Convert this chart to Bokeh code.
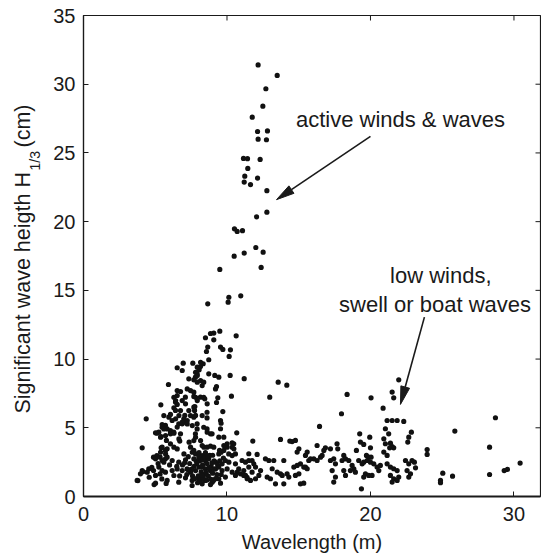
from math import pi, hypot
from bokeh.plotting import figure
from bokeh.layouts import row
from bokeh.models import Label, Range1d, FixedTicker
from bokeh.embed import file_html
from bokeh.resources import INLINE

# ---------------- data ----------------
x_ticks = [0, 10, 20, 30]
y_ticks = [0, 5, 10, 15, 20, 25, 30, 35]

# active winds & waves: the tall branch
wl_peak = [12.17, 13.5, 12.71, 12.50, 11.76, 12.13, 12.82, 12.17, 12.75, 11.15, 11.43, 12.31,
           11.45, 11.24, 12.13, 11.2, 11.64, 12.78, 12.78, 12.06, 10.52, 10.71, 11.08, 12.01,
           12.52, 11.2, 10.5, 9.5, 12.38, 10.13, 10.96, 10.08, 8.66, 10.64, 9.5, 8.85, 9.08,
           8.5, 9.08, 8.66, 8.57, 9.55, 9.71, 10.24, 10.15]
h_peak = [31.4, 30.64, 29.67, 28.4, 27.6, 26.56, 26.6, 26.0, 25.96, 24.6, 24.58, 24.53,
          23.87, 23.31, 23.17, 22.88, 22.7, 22.25, 20.69, 20.35, 19.48, 19.29, 19.34, 18.12,
          17.78, 17.71, 17.49, 16.52, 16.67, 14.5, 14.6, 14.14, 14.02, 11.69, 12.03, 11.86, 11.89,
          11.55, 11.4, 10.87, 10.55, 10.87, 10.7, 10.67, 10.19]

# middle band (3.5 - 10 cm)
wl_mid = [8.73, 8.34, 8.15, 8.06, 6.95, 7.62, 6.53, 6.88, 7.92, 7.8, 7.69, 8.73, 9.15, 9.43,
          10.22, 11.2, 12.98, 10.31, 5.92, 6.53, 6.76, 7.1, 7.69, 8.15, 8.45, 9.36, 9.27, 8.62,
          7.76, 5.39, 4.37, 5.02, 5.13, 5.48, 5.71, 6.06, 6.29, 6.88, 7.1, 7.23, 7.69, 7.92,
          7.8, 8.38, 8.62, 9.55, 9.55, 9.43, 9.78, 10.68, 4.09, 5.78, 6.06, 6.71, 7.36, 11.8,
          10.36, 10.01, 9.78, 8.16, 7.93, 7.81, 7.93, 7.34, 7.93, 8.16, 8.27, 7.23, 7.46, 7.69,
          6.3, 6.53, 6.42, 6.88, 7.11, 7.81, 7.93, 5.6, 5.95, 6.18, 6.42, 6.65, 6.76, 7.34,
          7.46, 7.69, 8.27, 7.23, 7.58, 5.83, 6.07, 5.37, 5.72, 6.76, 6.65, 7.81, 7.69, 8.16,
          6.3, 6.53, 7.46, 8.39, 9.27, 9.2, 8.38, 8.38, 8.61, 8.61, 9.71, 9.59, 8.61, 8.96,
          8.61, 8.85, 9.08, 10.47, 10.36, 5.41, 5.41, 6.41, 6.53, 6.30, 6.41, 6.06, 7.06, 6.99,
          7.74, 7.81, 5.48, 5.60, 5.25, 6.53, 6.64, 6.88, 6.06, 6.30, 7.92, 8.85, 5.48, 5.83,
          8.27, 9.78, 10.01, 10.48]
h_mid = [9.95, 9.66, 9.46, 9.22, 9.7, 9.7, 9.37, 9.17, 8.93, 8.68, 8.49, 8.93, 8.81, 8.68,
         8.81, 8.57, 7.23, 7.3, 8.15, 7.71, 7.64, 7.23, 7.28, 7.23, 7.11, 7.18, 6.84, 6.74,
         6.55, 6.67, 5.65, 4.63, 4.61, 5.04, 5.17, 4.8, 4.68, 5.29, 5.41, 5.53, 5.77, 5.29,
         4.56, 5.04, 4.68, 5.53, 4.93, 4.32, 4.32, 4.63, 3.54, 4.08, 3.83, 4.03, 3.95, 4.03,
         3.91, 3.59, 3.35, 9.77, 9.41, 9.04, 8.8, 8.56, 8.32, 8.44, 8.07, 7.83, 7.71, 7.59,
         7.22, 7.35, 6.98, 6.98, 6.74, 7.22, 6.98, 5.89, 5.77, 5.53, 5.65, 5.89, 6.25, 6.25,
         5.89, 6.5, 5.89, 5.28, 5.16, 4.92, 4.68, 4.31, 4.44, 4.56, 4.19, 4.31, 4.07, 4.07,
         3.59, 3.46, 3.59, 3.59, 8.0, 7.83, 8.32, 7.22, 6.13, 5.72, 6.18, 5.33, 4.92, 4.56,
         3.59, 3.66, 3.59, 3.83, 3.59, 4.36, 3.54, 6.87, 6.70, 6.45, 6.26, 5.97, 5.90, 5.65,
         6.26, 5.90, 5.24, 4.92, 4.68, 5.05, 5.29, 5.41, 4.56, 4.61, 4.92, 4.56, 3.59, 3.47,
         3.71, 3.71, 3.83, 3.47]

# low cluster (short wavelength, small heights)
wl_low = [9.59, 9.43, 10.12, 10.36, 10.59, 11.05, 11.29, 11.52, 10.71, 10.94, 11.17, 11.4,
          7.58, 7.81, 5.37, 5.72, 5.83, 11.52, 12.1, 4.88, 5.11, 5.34, 4.76, 4.88, 4.13, 3.79,
          4.58, 4.92, 5.34, 5.46, 5.71, 7.69, 9.48, 5.02, 5.48, 5.71, 6.18, 6.64, 7.11, 7.69,
          8.04, 8.27, 8.50, 8.73, 9.20, 9.66, 9.89, 10.13, 10.59, 4.09, 4.55, 5.25, 5.48, 5.71,
          6.18, 6.53, 6.88, 7.22, 7.46, 7.81, 8.04, 8.27, 8.50, 8.85, 9.20, 9.43, 9.66, 10.01,
          10.36, 10.82, 11.17, 11.52, 11.75, 3.74, 5.02, 5.83, 6.30, 6.64, 7.11, 7.57, 8.04,
          8.50, 8.97, 9.43, 9.89, 10.59, 11.29, 11.64, 3.97, 4.44, 7.57, 8.27, 8.85, 7.9, 8.1,
          8.3, 8.4, 8.6, 8.7, 8.9, 9.0, 9.1, 8.2, 7.7, 7.4, 8.8, 9.3, 9.5, 7.2, 6.9, 8.0, 8.5,
          9.0, 8.3, 8.6, 7.6, 9.2, 6.7, 6.5, 6.0, 5.6, 5.2, 7.3, 7.0, 5.76, 5.02, 9.55, 9.06,
          7.75, 7.95, 8.15, 8.35, 8.55, 8.75, 8.95, 9.1, 8.45, 8.05, 7.85, 8.65, 9.35, 7.55,
          8.25, 8.9, 9.6, 9.75, 7.3, 7.05]
h_low = [3.22, 3.1, 3.1, 2.98, 3.1, 2.62, 2.5, 2.62, 1.77, 1.65, 1.53, 1.4,
         3.22, 3.1, 3.22, 3.1, 2.86, 3.11, 3.06, 2.86, 2.98, 2.86, 2.13, 1.89, 1.81, 1.16,
         1.4, 0.87, 1.64, 1.28, 3.35, 3.35, 3.35, 2.74, 2.62, 2.74, 2.62, 2.50, 2.67, 2.74,
         2.86, 2.98, 2.62, 2.74, 2.50, 2.38, 2.62, 2.50, 2.38, 1.89, 2.01, 2.14, 1.89, 1.77,
         1.89, 2.01, 1.89, 2.01, 1.77, 1.89, 2.14, 2.14, 2.01, 1.89, 2.01, 2.14, 1.89, 2.01,
         1.77, 2.01, 1.89, 2.14, 1.77, 1.17, 1.53, 1.17, 1.53, 1.04, 1.36, 1.17, 1.29,
         1.17, 1.04, 1.29, 1.41, 1.53, 1.53, 1.17, 1.65, 1.77, 0.80, 0.92, 0.87, 2.4, 2.6,
         2.3, 1.6, 2.4, 1.5, 2.2, 1.7, 2.6, 1.8, 2.2, 2.4, 3.0, 1.6, 2.6, 1.6, 2.3, 1.5, 3.2,
         3.0, 2.7, 1.2, 1.5, 1.3, 1.5, 2.2, 2.3, 2.5, 2.4, 2.9, 3.1, 0.95, 0.97, 0.97, 1.16,
         1.3, 1.0, 1.15, 1.35, 1.75, 2.1, 2.45, 2.0, 2.85, 3.2, 2.6, 2.95, 2.3, 2.0,
         1.55, 1.25, 1.6, 2.8, 1.95, 2.45]

# low winds, swell or boat waves (longer wavelengths)
wl_long = [13.57, 14.17, 16.45, 13.73, 14.38, 14.54, 14.77, 16.28, 16.86, 16.75, 15.01, 14.89,
           15.59, 15.47, 11.75, 11.87, 11.99, 12.34, 12.22, 12.68, 12.92, 13.26, 13.96, 16.05,
           16.28, 16.52, 16.63, 15.70, 15.82, 15.12, 15.35, 15.47, 15.59, 14.66, 14.89, 13.15,
           13.5, 13.73, 13.85, 14.19, 14.31, 12.8, 13.03, 14.77, 15.01, 13.38, 13.96, 15.12,
           15.35, 11.41, 11.99, 17.33,
           21.97, 21.51, 21.62, 18.37, 20.04, 20.88, 17.98, 21.16, 21.51, 21.86, 22.32, 21.04,
           21.27, 19.25, 19.95, 22.85, 22.67, 22.6, 19.3, 19.53, 20.93, 21.04, 21.39, 21.51,
           21.34, 21.62, 17.67, 17.72, 17.21, 19.02, 20.0, 20.93, 21.16, 19.72, 19.88, 20.04,
           18.14, 18.26, 18.02, 18.49, 17.21, 17.44, 17.56, 19.18, 19.42, 19.53, 19.77, 20.0,
           20.23, 18.72, 18.84, 18.6, 18.95, 20.46, 20.58, 20.69, 21.16, 21.39, 21.62, 21.86,
           22.44, 22.67, 22.9, 23.06, 22.55, 22.79, 22.67, 19.65, 19.53, 19.88, 20.11, 18.14,
           18.26, 17.56, 17.44, 21.39, 21.62, 21.86, 21.97, 21.51, 19.37,
           23.14, 23.95, 23.95, 25.88, 28.71, 28.30, 25.04, 24.88, 24.88, 25.72, 28.30, 29.32,
           29.55, 30.43]
h_long = [8.32, 8.10, 5.10, 4.15, 4.03, 4.0, 4.08, 3.71, 3.54, 3.35, 3.47, 3.23,
          3.23, 2.99, 2.62, 2.38, 2.14, 1.89, 1.53, 2.74, 2.62, 2.62, 2.62, 2.74,
          2.62, 2.86, 2.99, 2.62, 2.74, 2.38, 2.14, 2.14, 2.02, 2.14, 2.26, 2.02,
          1.77, 1.65, 1.53, 1.65, 1.41, 1.41, 1.29, 1.53, 1.65, 0.92, 0.92, 0.92,
          0.97, 1.29, 1.29, 1.89,
          8.49, 7.6, 7.18, 7.43, 7.18, 6.43, 6.02, 5.53, 5.53, 5.53, 5.46, 4.93,
          4.56, 4.56, 4.32, 4.68, 4.32, 3.96, 3.96, 3.79, 4.2, 3.84, 3.88, 3.64,
          3.54, 3.54, 3.84, 3.47, 3.47, 3.35, 3.54, 3.23, 2.99, 2.99, 2.86, 2.86,
          2.99, 2.74, 2.62, 2.62, 2.62, 2.74, 2.38, 2.62, 2.38, 2.5, 2.62, 2.5,
          2.38, 2.26, 2.02, 1.89, 1.77, 2.14, 1.89, 2.26, 2.38, 2.14, 2.02, 1.89,
          2.62, 2.38, 2.62, 2.5, 1.89, 1.65, 1.41, 1.65, 1.41, 1.53, 1.53, 1.89,
          1.53, 1.41, 1.05, 1.53, 1.29, 1.17, 1.41, 1.05, 0.56,
          2.09, 3.42, 3.06, 4.76, 5.73, 3.59, 1.70, 1.17, 1.0, 1.48, 1.60, 1.89,
          1.97, 2.43]

wavelength = wl_peak + wl_mid + wl_low + wl_long
height = h_peak + h_mid + h_low + h_long

# ---------------- layout constants ----------------
X0, X1, Y0, Y1 = 0, 31.85, 0, 35
TOTAL_W, H = 541, 559
LAB_W = 46                       # strip holding the rotated y title
W = TOTAL_W - LAB_W
BL, BR, BT, BB = 83 - LAB_W, 1, 15, 63
FONT = "Liberation Sans"
INK = "#1a1a1a"

p = figure(width=W, height=H, output_backend="svg", toolbar_location=None,
           x_range=Range1d(X0, X1), y_range=Range1d(Y0, Y1),
           min_border_left=BL, min_border_right=BR, min_border_top=BT, min_border_bottom=BB,
           background_fill_color="white", border_fill_color="white")
p.outline_line_color = INK
p.outline_line_width = 1.2
p.xgrid.visible = False
p.ygrid.visible = False

for ax, ticks, standoff in ((p.xaxis[0], x_ticks, 10), (p.yaxis[0], y_ticks, 8)):
    ax.ticker = FixedTicker(ticks=ticks)
    ax.major_tick_in = 5
    ax.major_tick_out = 0
    ax.minor_tick_in = 0
    ax.minor_tick_out = 0
    ax.major_tick_line_color = INK
    ax.axis_line_color = INK
    ax.axis_line_width = 1.2
    ax.major_label_standoff = standoff
    ax.major_label_text_font = FONT
    ax.major_label_text_font_size = "20px"
    ax.major_label_text_color = INK

p.xaxis[0].axis_line_width = 2
p.xaxis[0].axis_label = "Wavelength (m)"
p.xaxis[0].axis_label_text_font = FONT
p.xaxis[0].axis_label_text_font_size = "20px"
p.xaxis[0].axis_label_text_font_style = "normal"
p.xaxis[0].axis_label_text_color = INK
p.xaxis[0].axis_label_standoff = 7

FW = W - BL - BR
FH = H - BT - BB
sx = FW / (X1 - X0)
sy = FH / (Y1 - Y0)

# inward ticks on the top and right sides of the box
p.segment(x0=x_ticks, y0=[Y1] * len(x_ticks), x1=x_ticks, y1=[Y1 - 5 / sy] * len(x_ticks),
          line_color=INK, line_width=1)
p.segment(x0=[X1] * len(y_ticks), y0=y_ticks, x1=[X1 - 5 / sx] * len(y_ticks), y1=y_ticks,
          line_color=INK, line_width=1)

p.scatter(wavelength, height, size=5.2, color="#111111", line_color=None)

# ---------------- arrows ----------------
def arrow(xs, ys, xe, ye, L=18.0, hw=4.5):
    dx, dy = (xe - xs) * sx, (ye - ys) * sy
    n = hypot(dx, dy)
    ux, uy = dx / n, dy / n
    px_, py_ = -uy, ux
    bx, by = xe - L * ux / sx, ye - L * uy / sy
    p.line([xs, bx], [ys, by], line_color=INK, line_width=1.6)
    p.patch([xe, bx + hw * px_ / sx, bx - hw * px_ / sx],
            [ye, by + hw * py_ / sy, by - hw * py_ / sy],
            fill_color=INK, line_color=INK, line_width=1)

arrow(20.0, 26.2, 13.45, 21.6)
arrow(23.76, 13.05, 22.09, 6.70)

# ---------------- texts ----------------
def txt(fig, x, y, s, size="22px", align="center", baseline="middle", angle=0):
    fig.add_layout(Label(x=x, y=y, text=s, text_font=FONT, text_font_size=size,
                         text_color=INK, text_align=align, text_baseline=baseline,
                         angle=angle))

txt(p, 22.09, 27.4, "active winds & waves")
txt(p, 24.9, 16.1, "low winds,")
txt(p, 24.5, 14.0, "swell or boat waves")

# y axis title with a subscript, in its own strip; the strip shares the y range,
# and its frame is aligned with the main frame by the row layout
lab = figure(width=LAB_W, height=H, output_backend="svg", toolbar_location=None,
             x_range=Range1d(0, LAB_W), y_range=p.y_range,
             min_border=0, background_fill_color="white", border_fill_color="white")
lab.axis.visible = False
lab.grid.visible = False
lab.outline_line_color = None

def yy(py):  # page pixel row -> shared data y
    return (BT + FH - py) / sy

txt(lab, 22, yy(413), "Significant wave heigth H", size="21.5px", align="left",
    baseline="alphabetic", angle=pi / 2)
txt(lab, 34, yy(170), "1/3", size="14px", align="left", baseline="alphabetic", angle=pi / 2)
txt(lab, 22, yy(147), "(cm)", size="21.5px", align="left", baseline="alphabetic", angle=pi / 2)

layout = row(lab, p, spacing=0)
open("out.html", "w").write(file_html(layout, INLINE))
